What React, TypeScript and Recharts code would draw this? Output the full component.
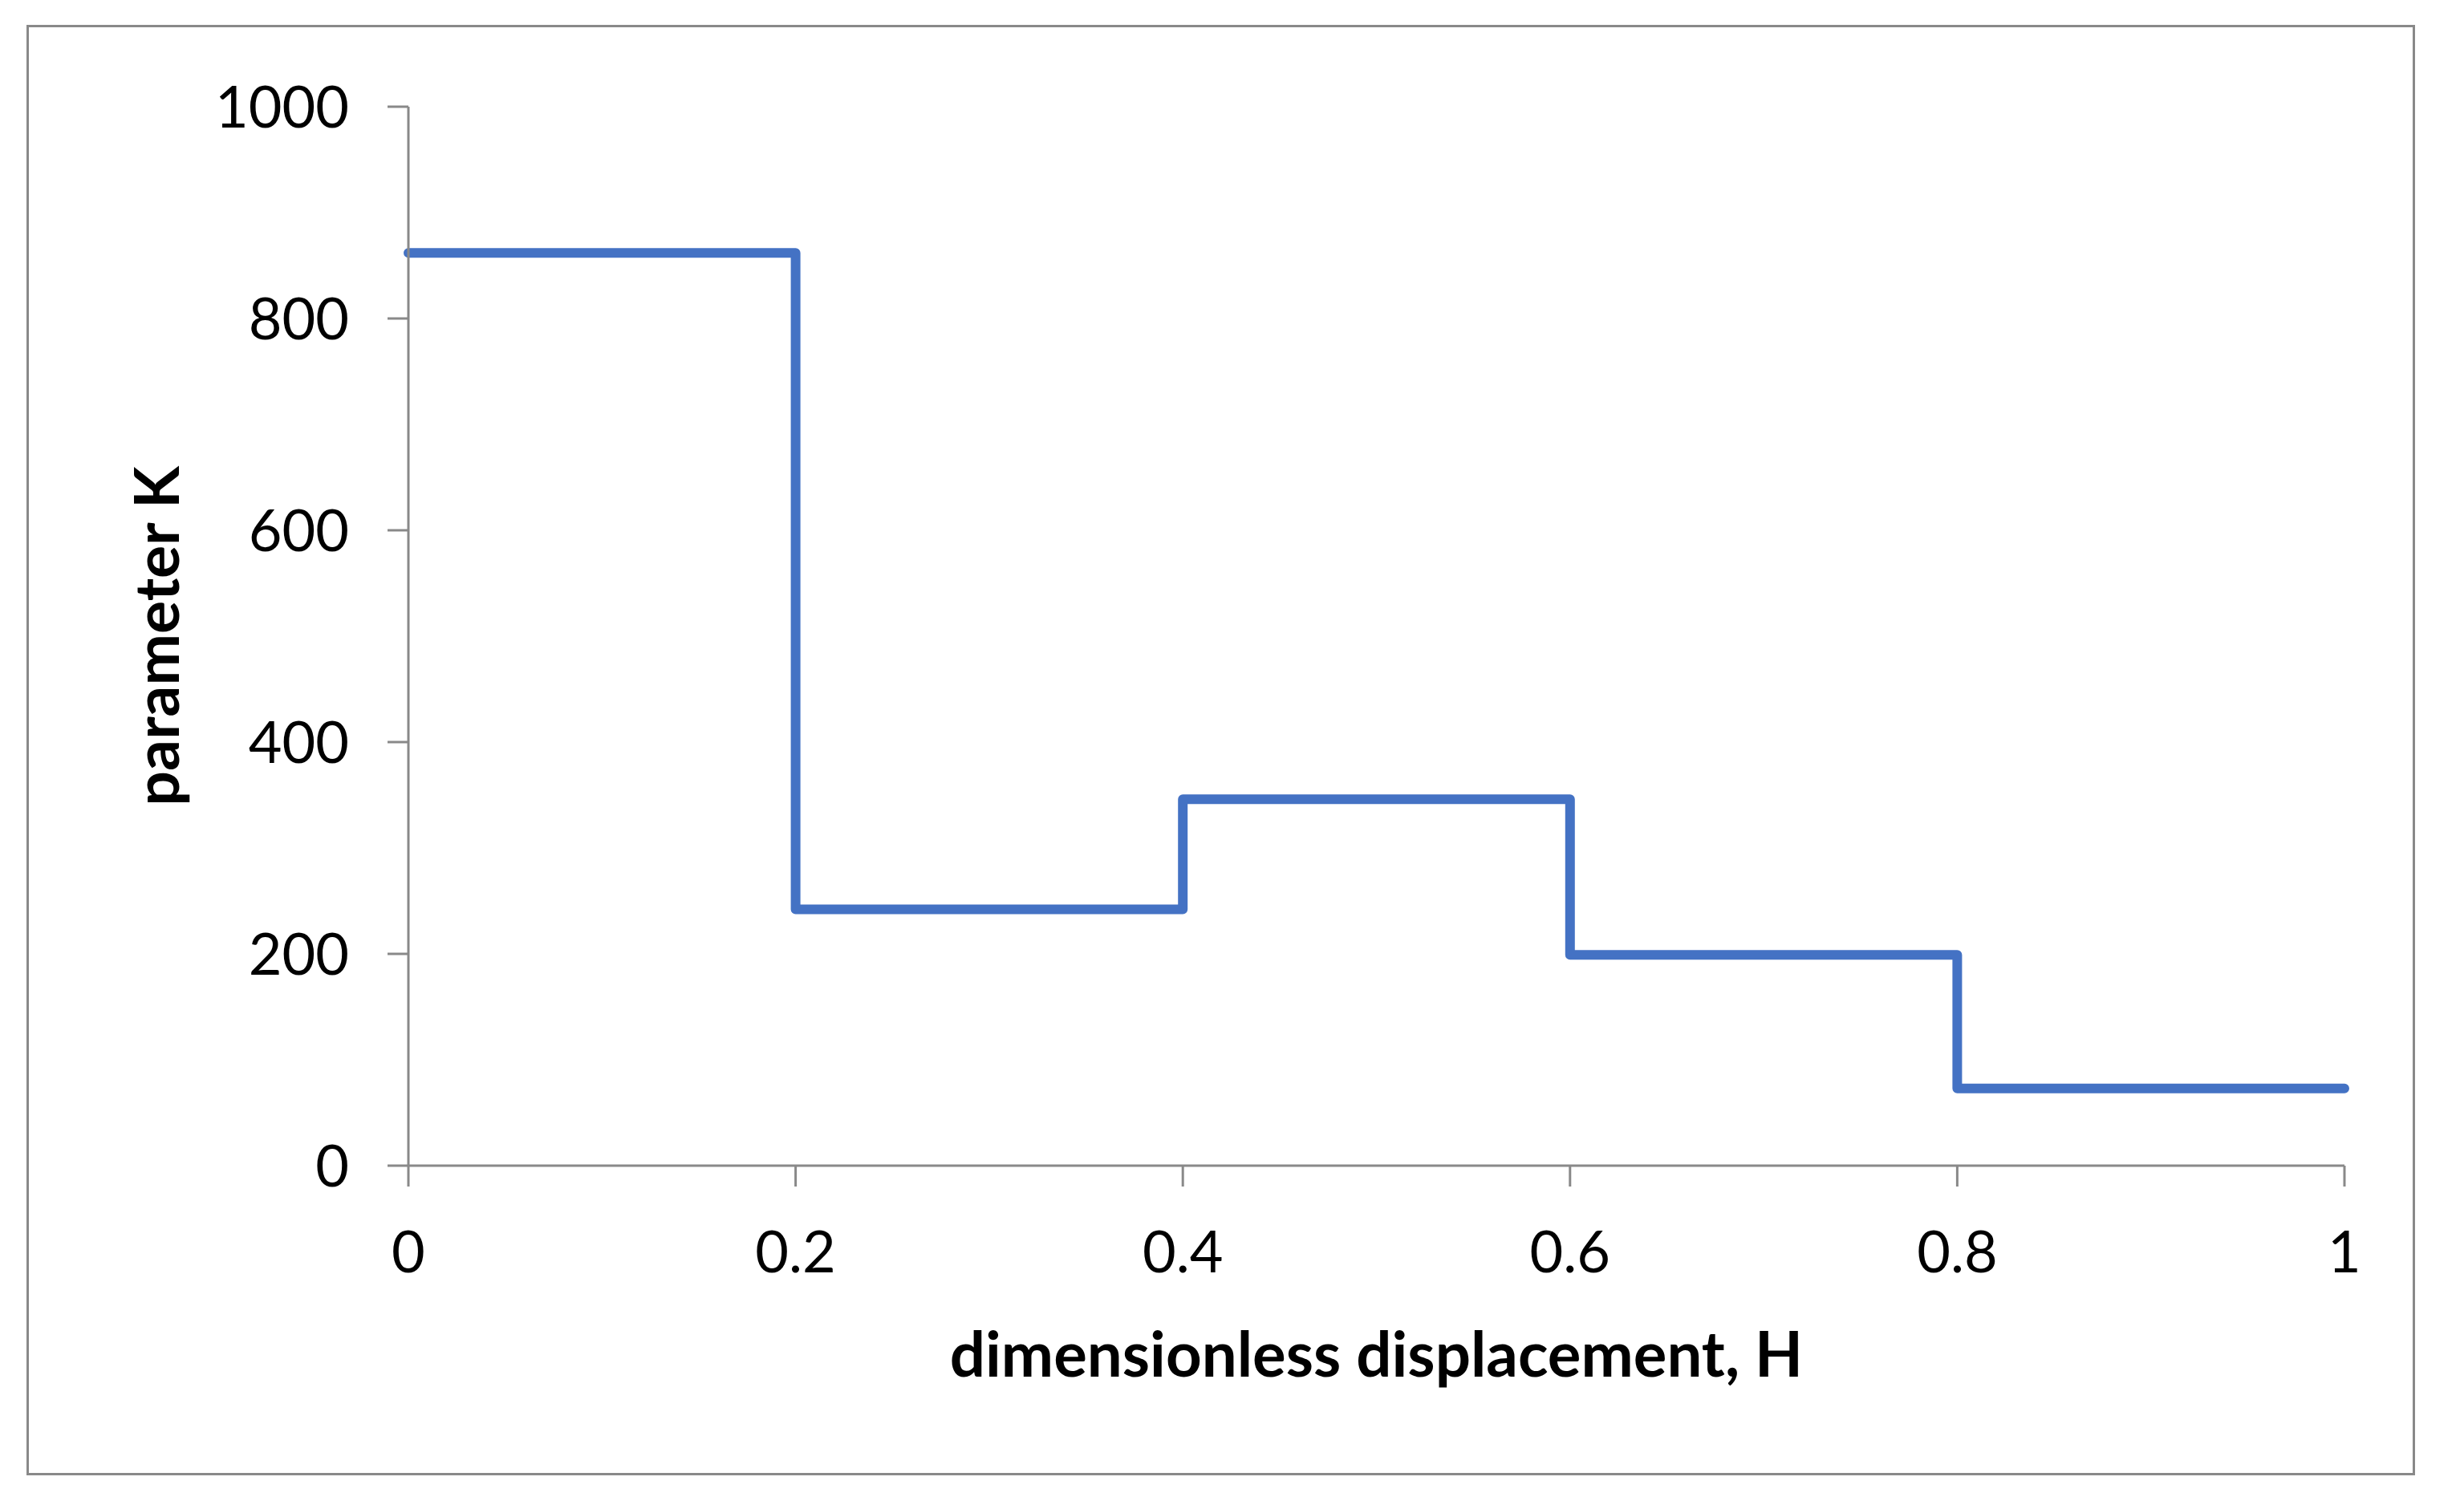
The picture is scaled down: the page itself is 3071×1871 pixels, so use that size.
import { LineChart, Line, XAxis, YAxis } from 'recharts';

// dimensionless displacement H (step start points) and parameter K
const hValues = [0, 0.2, 0.4, 0.6, 0.8, 1];
const kValues = [862, 242, 346, 199, 73, 73];

const xTicks = [0, 0.2, 0.4, 0.6, 0.8, 1];
const yTicks = [0, 200, 400, 600, 800, 1000];

const data = hValues.map((h, i) => ({ h, k: kValues[i] }));

const FONT = 'Lato, "Open Sans", sans-serif';
const AXIS = '#898989';

const App = () => {
  return (
    <div style={{ position: 'absolute', left: 0, top: 0, width: 3071, height: 1871, background: '#fff' }}>
      <div
        style={{
          position: 'absolute',
          left: 33,
          top: 31,
          width: 2977,
          height: 1808,
          border: `3px solid ${AXIS}`,
          boxSizing: 'border-box',
        }}
      />
      <div style={{ position: 'absolute', left: 0, top: 0 }}>
        <LineChart
          width={3071}
          height={1871}
          data={data}
          margin={{ top: 133, right: 149, left: 109, bottom: 0 }}
        >
          <XAxis
            dataKey="h"
            type="number"
            domain={[0, 1]}
            ticks={xTicks}
            height={418}
            stroke={AXIS}
            strokeWidth={3}
            tickSize={26}
            tickMargin={56}
            tick={{ fontSize: 72, fill: '#000', fontFamily: FONT }}
            label={{
              value: 'dimensionless displacement, H',
              position: 'insideBottom',
              offset: 155,
              style: { fontSize: 78, fontWeight: 700, fill: '#000', fontFamily: FONT, textAnchor: 'middle' },
            }}
          />
          <YAxis
            type="number"
            domain={[0, 1000]}
            ticks={yTicks}
            width={400}
            stroke={AXIS}
            strokeWidth={3}
            tickSize={26}
            tickMargin={48}
            tick={{ fontSize: 72, fill: '#000', fontFamily: FONT }}
            label={{
              value: 'parameter K',
              angle: -90,
              position: 'insideLeft',
              offset: 87,
              style: { fontSize: 77, fontWeight: 700, fill: '#000', fontFamily: FONT, textAnchor: 'middle' },
            }}
          />
          <Line
            type="stepAfter"
            dataKey="k"
            stroke="#4472C4"
            strokeWidth={12}
            strokeLinecap="round"
            strokeLinejoin="round"
            dot={false}
            activeDot={false}
            isAnimationActive={false}
          />
        </LineChart>
      </div>
    </div>
  );
};

export default App;
